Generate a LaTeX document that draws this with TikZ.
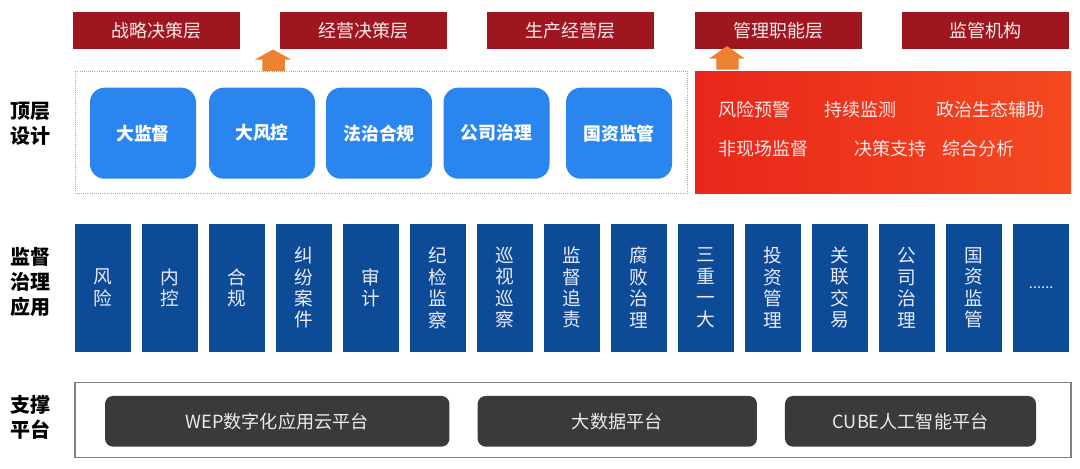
\documentclass[tikz,border=0pt]{standalone}
\usepackage{fontspec}
\setmainfont{Noto Sans CJK SC}
\definecolor{layerred}{HTML}{9E1620}
\definecolor{topicblue}{HTML}{2A85EE}
\definecolor{appblue}{HTML}{0D4B96}
\definecolor{platgray}{HTML}{3C3A38}
\definecolor{arroworange}{HTML}{EE8031}
\definecolor{panelleft}{HTML}{E9261B}
\definecolor{panelright}{HTML}{F4491F}
\tikzset{
  layerbox/.style={fill=layerred, text=white!92!red, minimum width=125.25pt, minimum height=27.5pt, inner sep=0pt, font=\fontsize{13.5pt}{16pt}\selectfont},
  topicbox/.style={fill=topicblue, text=white, rounded corners=11pt, minimum width=79.5pt, minimum height=68.25pt, inner sep=0pt, font=\fontsize{13.4pt}{16pt}\selectfont\bfseries},
  appbox/.style={fill=appblue, text=white!92!blue, minimum width=42.4pt, minimum height=96pt, inner sep=0pt, align=center, font=\fontsize{14pt}{16.1pt}\selectfont},
  platbox/.style={fill=platgray, text=white!92!black, rounded corners=6pt, minimum height=38pt, inner sep=0pt, font=\fontsize{13.6pt}{16pt}\selectfont},
  sidelabel/.style={align=center, inner sep=0pt, text=black, font=\fontsize{15pt}{18.6pt}\selectfont\bfseries},
  paneltext/.style={anchor=west, inner sep=0pt, text=white!90!red, font=\fontsize{13.5pt}{16pt}\selectfont}
}
\begin{document}
\begin{tikzpicture}[x=0.75pt,y=-0.75pt]
\useasboundingbox (0,0) rectangle (1080,468);
\fill[white] (0,0) rectangle (1080,468);
% top row
\foreach \cx/\lbl [count=\i] in {156.5/战略决策层,363.5/经营决策层,570.5/生产经营层,778/管理职能层,985/监管机构}
  \node[layerbox] (layer\i) at (\cx,30.3) {\raisebox{0.3pt}{\lbl}};
% design area
\draw[gray!70, densely dotted, line width=0.6pt] (75,71) rectangle (687.4,193);
\foreach \cx/\lbl [count=\i] in {143/大监督,262/大风控,379/法治合规,496.5/公司治理,619/国资监管}
  \node[topicbox] (topic\i) at (\cx,133.2) {\raisebox{1.2pt}{\lbl}};
\node[left color=panelleft, right color=panelright, minimum width=282pt, minimum height=91.5pt, inner sep=0pt] (panel) at (883,132) {};
\node[paneltext] (warn) at (718.5,109.5) {风险预警};
\node[paneltext] (watch) at (824.5,109.5) {持续监测};
\node[paneltext] (eco) at (936.5,109.5) {政治生态辅助};
\node[paneltext] (offsite) at (718.5,148.5) {非现场监督};
\node[paneltext] (decide) at (854.5,148.5) {决策支持};
\node[paneltext] (analyse) at (942,148.5) {综合分析};
% orange arrows
\fill[arroworange] (273,49.5) -- (291,59.5) -- (284.8,59.5) -- (284.8,71) -- (262.4,71) -- (262.4,59.5) -- (255,59.5) -- cycle;
\fill[arroworange] (727,46) -- (744.5,58.5) -- (738.7,58.5) -- (738.7,69.5) -- (716.3,69.5) -- (716.3,58.5) -- (709.4,58.5) -- cycle;
% application columns
\foreach \lbl [count=\i from 0] in {{风\\险},{内\\控},{合\\规},{纠\\纷\\案\\件},{审\\计},{纪\\检\\监\\察},{巡\\视\\巡\\察},{监\\督\\追\\责},{腐\\败\\治\\理},{三\\重\\一\\大},{投\\资\\管\\理},{关\\联\\交\\易},{公\\司\\治\\理},{国\\资\\监\\管}}
  \node[appbox] (app\i) at ({103.2+67*\i},287.7) {\lbl};
\node[appbox] (app14) at (1041.2,287.7) {\raisebox{-1.5pt}{\fontsize{11pt}{12pt}\selectfont ......}};
% platform
\draw[gray, line width=0.8pt] (75,382.7) rectangle (1071,457.7);
\node[platbox, minimum width=258.3pt] (wep) at (277.2,421.3) {WEP数字化应用云平台};
\node[platbox, minimum width=209.5pt] (bigdata) at (617.3,421.3) {大数据平台};
\node[platbox, minimum width=188.3pt] (cube) at (910.5,421.3) {CUBE人工智能平台};
% side labels
\node[sidelabel] (design) at (30.5,124) {顶层\\设计};
\node[sidelabel] (apply) at (30.5,282) {监督\\治理\\应用};
\node[sidelabel] (support) at (30.5,417.5) {支撑\\平台};
\end{tikzpicture}
\end{document}
